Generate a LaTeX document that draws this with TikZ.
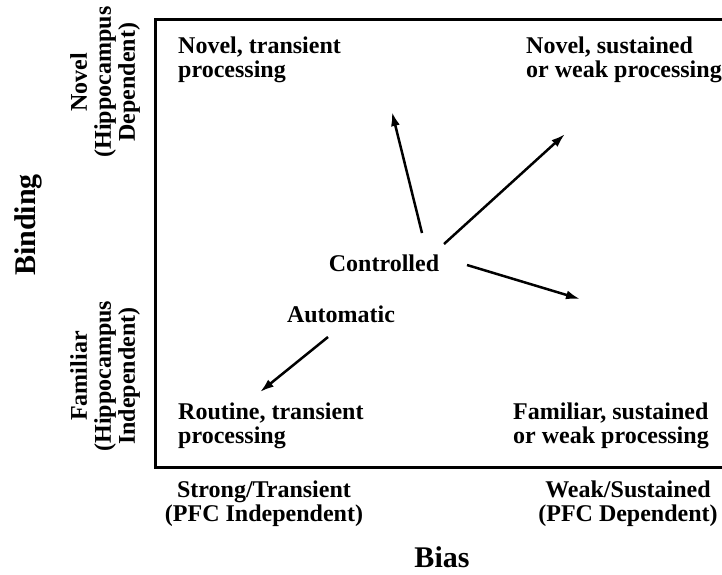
\documentclass[tikz,border=0pt]{standalone}
\usepackage{fontspec}
\setmainfont{Liberation Serif}
\usetikzlibrary{arrows.meta}
\tikzset{
  lbl/.style={inner sep=0pt, font=\bfseries\fontsize{24}{24}\selectfont},
  big/.style={inner sep=0pt, font=\bfseries\fontsize{30}{30}\selectfont},
  arr/.style={line width=2.5pt, -{Latex[length=14pt,width=9pt]}},
  frame/.style={line width=3pt}
}
\begin{document}
\begin{tikzpicture}[x=1pt,y=-1pt]
\useasboundingbox (0,0) rectangle (722,574);
% frame (right side lies outside the picture)
\draw[frame] (723,19) -| (155,467) -- (723,467);
% quadrant labels (base = baseline of last line)
\node[lbl, anchor=base west, align=left] (nt) at (178,77) {Novel, transient\\processing};
\node[lbl, anchor=base west, align=left] (ns) at (526,77) {Novel, sustained\\or weak processing};
\node[lbl, anchor=base west, align=left] (rt) at (178,443) {Routine, transient\\processing};
\node[lbl, anchor=base west, align=left] (fs) at (513,443) {Familiar, sustained\\or weak processing};
% centre labels
\node[lbl, anchor=base] (ctl) at (384,271) {Controlled};
\node[lbl, anchor=base] (aut) at (341,322) {Automatic};
% axis labels
\node[lbl, rotate=90, align=center] (nov) at (105,82) {Novel\\(Hippocampus\\Dependent)};
\node[lbl, rotate=90, align=center] (fam) at (105,376) {Familiar\\(Hippocampus\\Independent)};
\node[big, rotate=90] (bind) at (28,225) {Binding};
\node[lbl, anchor=base, align=center] (st) at (264,521) {Strong/Transient\\(PFC Independent)};
\node[lbl, anchor=base, align=center] (ws) at (628,521) {Weak/Sustained\\(PFC Dependent)};
\node[big, anchor=base] (bias) at (442,567) {Bias};
% arrows
\coordinate (a1s) at (422,233); \coordinate (a1e) at (392,112);
\coordinate (a2s) at (444,244); \coordinate (a2e) at (565,134);
\coordinate (a3s) at (467,265); \coordinate (a3e) at (580,299);
\coordinate (a4s) at (328,337); \coordinate (a4e) at (260,392);
\draw[arr] (a1s) -- (a1e);
\draw[arr] (a2s) -- (a2e);
\draw[arr] (a3s) -- (a3e);
\draw[arr] (a4s) -- (a4e);
\end{tikzpicture}
\end{document}
